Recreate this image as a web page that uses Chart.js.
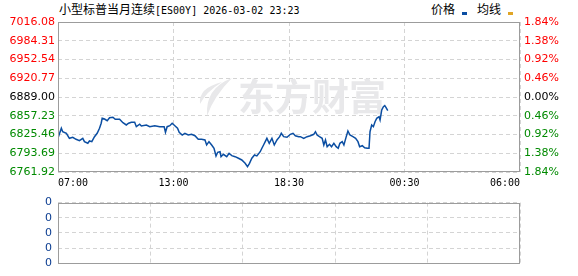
<!DOCTYPE html>
<html>
<head>
<meta charset="utf-8">
<title>小型标普当月连续</title>
<script src="https://cdn.jsdelivr.net/npm/chart.js@4.4.1/dist/chart.umd.min.js"></script>
<style>
body { margin: 0; background: #fff; width: 578px; height: 276px; overflow: hidden; position: relative; }
.txt { position: absolute; top: 0; line-height: 18px; font-size: 12px; font-family: "Noto Sans CJK SC"; color: #000; white-space: nowrap; }
.mono { font-family: "DejaVu Sans Mono"; font-size: 10px; }
.key { position: absolute; top: 12px; width: 5px; height: 3px; }
canvas { position: absolute; left: 0; }
</style>
</head>
<body>
<div class="txt" style="left:59px">小型标普当月连续<span class="mono">[ES00Y] 2026-03-02 23:23</span></div>
<div class="txt" style="left:431px">价格</div>
<div class="key" style="left:462px;background:#0b4ea2"></div>
<div class="txt" style="left:477px">均线</div>
<div class="key" style="left:508px;background:#e0a526"></div>
<canvas id="price_chart" width="578" height="190" style="top:0"></canvas>
<canvas id="volume_chart" width="578" height="86" style="top:190px"></canvas>
<script>
// minutes after 07:00 and last price
var minutes = [0,10,14,25,34,44,54,64,74,79,89,94,101,109,117,124,129,132,139,147,
    154,164,171,184,194,204,211,219,229,234,244,249,264,274,289,304,317,321,326,334,
    341,349,357,362,371,379,389,399,409,419,429,439,444,451,459,466,472,477,484,487,
    494,504,511,519,529,539,549,559,566,572,579,587,594,604,609,614,619,624,631,639,
    646,654,662,667,674,684,694,702,709,719,724,734,744,754,764,769,774,781,789,794,
    799,804,811,817,824,831,837,842,849,854,861,866,872,881,889,896,901,909,916,924,
    929,932,937,942,947,952,959,962,967,972,976,980,985];
var prices = [6819.5,6836.0,6830.2,6827.5,6819.0,6820.7,6817.3,6815.0,6819.0,6813.3,
    6810.6,6814.5,6813.3,6821.8,6827.5,6836.0,6844.5,6852.9,6851.7,6848.9,
    6853.9,6854.6,6851.2,6851.2,6845.5,6841.6,6844.5,6846.1,6846.1,6838.7,
    6842.8,6839.9,6841.6,6838.7,6840.4,6838.7,6838.7,6829.2,6838.7,6840.4,
    6844.5,6840.4,6836.0,6829.2,6824.6,6827.5,6824.6,6825.8,6823.4,6817.3,
    6817.3,6816.2,6807.7,6813.3,6807.7,6802.1,6789.1,6795.3,6796.3,6787.9,
    6791.9,6787.9,6793.6,6789.6,6787.9,6785.2,6782.3,6776.7,6770.9,6776.7,
    6785.2,6790.7,6789.1,6796.3,6802.1,6807.7,6813.3,6819.0,6810.6,6819.0,
    6807.7,6816.2,6821.8,6827.5,6821.8,6820.7,6825.8,6827.5,6823.4,6821.8,
    6821.8,6819.0,6821.8,6823.4,6825.8,6830.2,6824.6,6821.8,6819.0,6807.7,
    6816.2,6804.8,6808.9,6804.8,6810.6,6804.8,6802.1,6810.6,6813.3,6807.7,
    6821.8,6831.4,6824.6,6821.8,6819.0,6813.3,6804.8,6806.5,6803.1,6802.1,
    6802.1,6830.2,6841.6,6838.7,6847.2,6852.9,6855.6,6850.0,6867.0,6872.6,
    6874.3,6870.9,6865.8];
var volumes = [];
var preClose = 6889.00;
var priceTicks = [7016.08,6984.31,6952.54,6920.77,6889.00,6857.23,6825.46,6793.69,6761.92];
var pctLabels = ['1.84%','1.38%','0.92%','0.46%','0.00%','0.46%','0.92%','1.38%','1.84%'];
var timeTicks = [0,345,690,1035,1380];
var timeLabels = ['07:00','13:00','18:30','00:30','06:00'];
var volTicks = [0,1,2,3,4];
var volLabels = ['0','0','0','0','0'];

var gridColor = '#d4d4d4';
var frameColor = '#9c9c9c';
var tickFont = {family: 'DejaVu Sans', size: 11};

function tickColor(c) {
    var v = c.tick.value;
    if (Math.abs(v - preClose) < 0.01) return '#000';
    return v > preClose ? '#f00' : '#008a00';
}

var framePlugin = {
    id: 'frame',
    afterDraw: function (chart) {
        var a = chart.chartArea, c = chart.ctx;
        c.save();
        c.strokeStyle = frameColor;
        c.lineWidth = 1;
        c.strokeRect(Math.round(a.left) + 0.5, Math.round(a.top) + 0.5,
            Math.round(a.right - a.left) - 1, Math.round(a.bottom - a.top) - 1);
        c.restore();
    }
};

var watermark = {
    id: 'watermark',
    beforeDatasetsDraw: function (chart) {
        var c = chart.ctx;
        c.save();
        c.fillStyle = '#e8e8ea';
        c.font = 'bold 37px "Noto Sans CJK SC"';
        c.textBaseline = 'middle';
        c.fillText('东方财富', 238, 97);
        c.beginPath();
        c.moveTo(232, 78);
        c.quadraticCurveTo(205, 88, 207, 116);
        c.quadraticCurveTo(214, 96, 232, 78);
        c.fill();
        c.beginPath();
        c.moveTo(222, 82);
        c.quadraticCurveTo(198, 88, 200, 104);
        c.quadraticCurveTo(206, 92, 222, 82);
        c.fill();
        c.restore();
    }
};

new Chart('price_chart', {
    type: 'line',
    data: {
        datasets: [{
            label: '价格',
            data: minutes.map(function (m, i) { return {x: m, y: prices[i]}; }),
            borderColor: '#0b4ea2',
            borderWidth: 1.5,
            pointRadius: 0,
            tension: 0,
            yAxisID: 'y'
        }]
    },
    options: {
        responsive: false,
        animation: false,
        layout: {padding: {top: 22, left: 0, right: 0, bottom: 0}},
        plugins: {legend: {display: false}, tooltip: {enabled: false}},
        scales: {
            x: {
                type: 'linear',
                min: 0,
                max: 1380,
                afterBuildTicks: function (s) { s.ticks = timeTicks.map(function (v) { return {value: v}; }); },
                afterFit: function (s) { s.height = 18; },
                grid: {color: gridColor, drawTicks: false},
                border: {display: false, dash: [4, 3]},
                ticks: {
                    autoSkip: false,
                    maxRotation: 0,
                    align: 'inner',
                    padding: 5,
                    color: '#000',
                    font: {family: 'DejaVu Sans Mono', size: 10},
                    callback: function (v, i) { return timeLabels[i]; }
                }
            },
            y: {
                position: 'left',
                min: priceTicks[8],
                max: priceTicks[0],
                afterBuildTicks: function (s) { s.ticks = priceTicks.map(function (v) { return {value: v}; }); },
                afterFit: function (s) { s.width = 58; },
                grid: {color: gridColor, drawTicks: false},
                border: {display: false, dash: [4, 3]},
                ticks: {
                    padding: 3,
                    font: tickFont,
                    color: tickColor,
                    callback: function (v) { return v.toFixed(2); }
                }
            },
            pct: {
                position: 'right',
                min: priceTicks[8],
                max: priceTicks[0],
                afterBuildTicks: function (s) { s.ticks = priceTicks.map(function (v) { return {value: v}; }); },
                afterFit: function (s) { s.width = 58; },
                grid: {display: false, drawTicks: false},
                border: {display: false},
                ticks: {
                    padding: 4,
                    font: tickFont,
                    color: tickColor,
                    callback: function (v, i) { return pctLabels[i]; }
                }
            }
        }
    },
    plugins: [watermark, framePlugin]
});

new Chart('volume_chart', {
    type: 'bar',
    data: {
        datasets: [{
            label: '成交量',
            data: volumes,
            backgroundColor: '#0b4ea2'
        }]
    },
    options: {
        responsive: false,
        animation: false,
        layout: {padding: {top: 6, left: 0, right: 58, bottom: 6}},
        plugins: {legend: {display: false}, tooltip: {enabled: false}},
        scales: {
            x: {
                type: 'linear',
                min: 0,
                max: 1380,
                afterBuildTicks: function (s) { s.ticks = timeTicks.map(function (v) { return {value: v}; }); },
                afterFit: function (s) { s.height = 0; },
                grid: {color: gridColor, drawTicks: false},
                border: {display: false, dash: [4, 3]},
                ticks: {display: false}
            },
            y: {
                position: 'left',
                min: 0,
                max: 4,
                reverse: false,
                afterBuildTicks: function (s) { s.ticks = volTicks.map(function (v) { return {value: v}; }); },
                afterFit: function (s) { s.width = 58; },
                grid: {color: gridColor, drawTicks: false},
                border: {display: false, dash: [4, 3]},
                ticks: {
                    padding: 6,
                    font: tickFont,
                    color: '#0b3d91',
                    callback: function (v, i) { return volLabels[i]; }
                }
            }
        }
    },
    plugins: [framePlugin]
});
</script>
</body>
</html>
